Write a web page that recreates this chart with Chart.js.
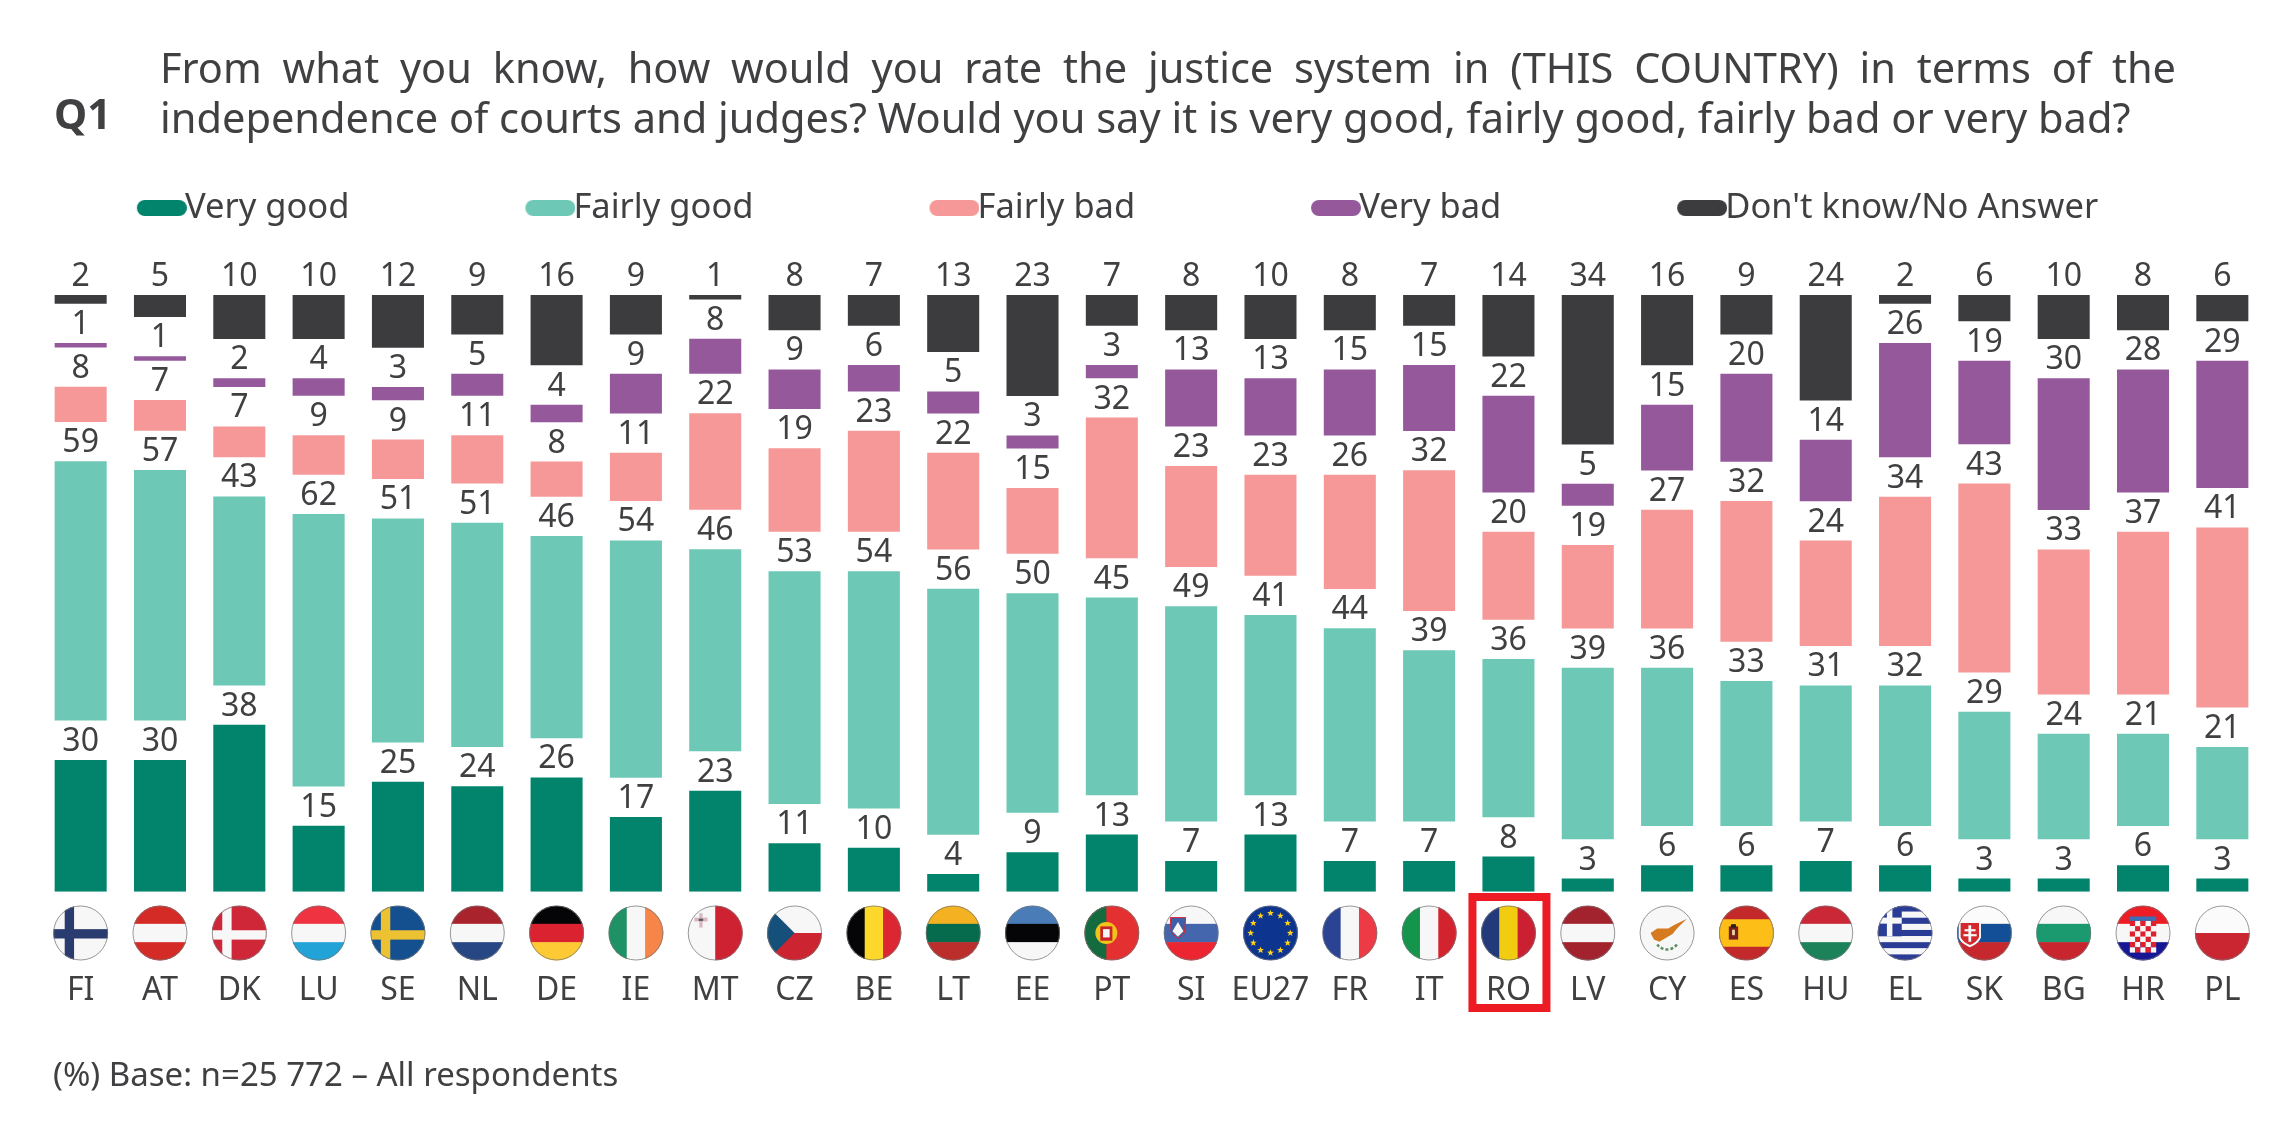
<!DOCTYPE html>
<html><head><meta charset="utf-8">
<script src="https://cdn.jsdelivr.net/npm/chart.js@4/dist/chart.umd.min.js"></script>
<style>
html,body{margin:0;padding:0;background:#fff;width:2294px;height:1133px;overflow:hidden}
#wrap{position:relative;width:2294px;height:1133px}
canvas{position:absolute;left:0;top:0}
.t{position:absolute;color:#404043;font-family:"Noto Sans";white-space:nowrap}
</style></head><body>
<div id="wrap">
<canvas id="c" width="2294" height="1133"></canvas>
<div class="t" id="q" style="left:54px;top:87px;font-size:42px;font-weight:700;line-height:52px">Q1</div>
<div class="t" id="l1" style="left:160px;top:41px;width:2016px;font-size:41.5px;line-height:52px;white-space:normal;text-align:justify;text-align-last:justify">From what you know, how would you rate the justice system in (THIS COUNTRY) in terms of the</div>
<div class="t" id="l2" style="left:160px;top:91px;font-size:41.55px;line-height:52px">independence of courts and judges? Would you say it is very good, fairly good, fairly bad or very bad?</div>
<div class="t" id="f" style="left:53px;top:1052px;font-size:33px;line-height:44px">(%) Base: n=25 772 – All respondents</div>
</div>
<script>
const FONT='"Noto Sans"';
const TEXT='#404043';
const categories=['FI','AT','DK','LU','SE','NL','DE','IE','MT','CZ','BE','LT','EE','PT','SI','EU27','FR','IT','RO','LV','CY','ES','HU','EL','SK','BG','HR','PL'];
const veryGood=[30,30,38,15,25,24,26,17,23,11,10,4,9,13,7,13,7,7,8,3,6,6,7,6,3,3,6,3];
const fairlyGood=[59,57,43,62,51,51,46,54,46,53,54,56,50,45,49,41,44,39,36,39,36,33,31,32,29,24,21,21];
const fairlyBad=[8,7,7,9,9,11,8,11,22,19,23,22,15,32,23,23,26,32,20,19,27,32,24,34,43,33,37,41];
const veryBad=[1,1,2,4,3,5,4,9,8,9,6,5,3,3,13,13,15,15,22,5,15,20,14,26,19,30,28,29];
const dontKnow=[2,5,10,10,12,9,16,9,1,8,7,13,23,7,8,10,8,7,14,34,16,9,24,2,6,10,8,6];
const seriesLabels=['Very good','Fairly good','Fairly bad','Very bad',"Don't know/No Answer"];
const seriesValues=[veryGood,fairlyGood,fairlyBad,veryBad,dontKnow];
const seriesColors=['#02846C','#6DC8B6','#F59897','#94589B','#3C3C3F'];
const highlighted='RO';
const gapUnits=8.95;

// each segment floats above the previous one with a constant label gap
const running=categories.map(()=>0);
const datasets=seriesValues.map((vals,s)=>{
  const data=vals.map((v,i)=>{const a=running[i];running[i]=a+v+gapUnits;return [a,a+v];});
  return {label:seriesLabels[s],data,backgroundColor:seriesColors[s],barPercentage:0.656,categoryPercentage:1};
});

const LEG_F=34.5,LEG_P=25,LEG_LEAD=151,LEG_W=LEG_LEAD+48-LEG_F/2;
function pill(color){
  const c=document.createElement('canvas');c.width=LEG_W+LEG_F+4;c.height=16;
  const x=c.getContext('2d');x.fillStyle=color;x.beginPath();
  x.roundRect(c.width-50,0,50,16,8);x.fill();return c;
}

const stripes={
 AT:['#D42B27','#F7F7F7','#D42B27'],LU:['#EF3340','#F7F7F7','#22A3D8'],NL:['#A8232B','#F7F7F7','#264784'],
 DE:['#050507','#DA2230','#FDC935'],LT:['#F4B223','#066A4C','#BB2E2B'],EE:['#4A7DB8','#050507','#F7F7F7'],
 SI:['#F7F7F7','#4466AC','#EC2530'],LV:['#A2232E','#F7F7F7','#A2232E'],HU:['#CA2737','#F7F7F7','#1B8259'],
 SK:['#FBFBFB','#134F97','#C7282E'],BG:['#F7F7F7','#1B9A70','#C9252F'],HR:['#EE1C25','#F7F7F7','#171796'],
 PL:['#FBFBFB','#C92632']
};
const bars={
 IE:['#1E9264','#F7F7F7','#F58548'],BE:['#050507','#FDD82A','#DC2732'],FR:['#2A4392','#F7F7F7','#EE3A45'],
 IT:['#14954B','#F7F7F7','#D2232F'],RO:['#22397A','#F2CC11','#CB2032'],MT:['#F7F7F7','#CE2232']
};
const crosses={FI:['#F7F7F7','#2A3B6F',.21,.43],DK:['#CF2738','#F7F7F7',.19,.45],SE:['#14508F','#ECC233',.19,.45]};

function star(x,cx,cy,r,fill){
  x.fillStyle=fill;x.beginPath();
  for(let i=0;i<10;i++){const a=-Math.PI/2+i*Math.PI/5,q=i%2?r*.42:r;x.lineTo(cx+q*Math.cos(a),cy+q*Math.sin(a));}
  x.closePath();x.fill();
}
function drawFlag(x,code,cx,cy,r){
  const L=cx-r,T=cy-r,D=2*r;
  x.save();x.beginPath();x.arc(cx,cy,r,0,Math.PI*2);x.clip();
  x.fillStyle='#F7F7F7';x.fillRect(L,T,D,D);
  const rect=(c,a,b,w,h)=>{x.fillStyle=c;x.fillRect(L+a*D,T+b*D,w*D,h*D);};
  if(stripes[code]){const s=stripes[code];s.forEach((c,i)=>rect(c,0,i/s.length,1,1/s.length+.01));}
  if(bars[code]){const s=bars[code];s.forEach((c,i)=>rect(c,i/s.length,0,1/s.length+.01,1));}
  if(crosses[code]){const [b,f,vx,hy]=crosses[code];rect(b,0,0,1,1);rect(f,vx,0,.17,1);rect(f,0,hy,1,.17);}
  if(code==='MT'){rect('#D9B7C0',.21,.14,.06,.26);rect('#D9B7C0',.12,.22,.24,.07);rect('#555',.2,.24,.08,.04);}
  if(code==='CZ'){rect('#F7F7F7',0,0,1,.5);rect('#CC2431',0,.5,1,.5);
    x.fillStyle='#14507A';x.beginPath();x.moveTo(L,T);x.lineTo(L+.5*D,T+.5*D);x.lineTo(L,T+D);x.closePath();x.fill();}
  if(code==='PT'){rect('#E53031',0,0,1,1);rect('#136B3F',0,0,.4,1);
    x.fillStyle='#F0C419';x.beginPath();x.arc(L+.4*D,T+.5*D,.2*D,0,7);x.fill();
    x.fillStyle='#C8242C';x.fillRect(L+.29*D,T+.38*D,.22*D,.26*D);
    x.fillStyle='#F7F7F7';x.fillRect(L+.34*D,T+.43*D,.12*D,.15*D);}
  if(code==='SI'){x.fillStyle='#3D5FA8';x.strokeStyle='#D23';x.lineWidth=1;x.beginPath();
    x.moveTo(L+.12*D,T+.22*D);x.lineTo(L+.4*D,T+.22*D);x.lineTo(L+.38*D,T+.5*D);x.lineTo(L+.26*D,T+.6*D);x.lineTo(L+.14*D,T+.5*D);x.closePath();x.fill();x.stroke();
    x.fillStyle='#F7F7F7';x.beginPath();x.moveTo(L+.16*D,T+.47*D);x.lineTo(L+.26*D,T+.3*D);x.lineTo(L+.36*D,T+.47*D);x.lineTo(L+.26*D,T+.57*D);x.closePath();x.fill();}
  if(code==='EU27'){rect('#0D3590',0,0,1,1);
    for(let i=0;i<12;i++){const a=i*Math.PI/6;star(x,cx+.72*r*Math.cos(a),cy+.72*r*Math.sin(a),.13*r,'#FCD116');}}
  if(code==='CY'){x.fillStyle='#D57A1E';x.beginPath();
    const p=[[.2,.5],[.32,.42],[.52,.42],[.62,.36],[.86,.24],[.68,.42],[.6,.52],[.46,.6],[.36,.66],[.26,.62]];
    p.forEach(q=>x.lineTo(L+q[0]*D,T+q[1]*D));x.closePath();x.fill();
    x.strokeStyle='#5E8C62';x.lineWidth=2.5;x.setLineDash([3,2]);x.beginPath();x.arc(cx,T+.58*D,.22*D,.2*Math.PI,.8*Math.PI);x.stroke();x.setLineDash([]);}
  if(code==='ES'){rect('#C3282A',0,0,1,1);rect('#FDBF17',0,.25,1,.5);
    rect('#7A1F1F',.18,.38,.17,.24);rect('#222',.22,.34,.09,.06);rect('#E9D9A0',.24,.44,.05,.1);}
  if(code==='EL'){for(let i=0;i<9;i++)rect(i%2?'#F7F7F7':'#2B3C96',0,i/9,1,1/9+.005);
    rect('#2B3C96',0,0,.44,.56);rect('#F7F7F7',.17,0,.1,.56);rect('#F7F7F7',0,.22,.44,.11);}
  if(code==='SK'){x.fillStyle='#D3282E';x.strokeStyle='#F7F7F7';x.lineWidth=2;x.beginPath();
    x.moveTo(L+.05*D,T+.3*D);x.lineTo(L+.42*D,T+.3*D);x.lineTo(L+.42*D,T+.58*D);x.quadraticCurveTo(L+.38*D,T+.68*D,L+.24*D,T+.74*D);x.quadraticCurveTo(L+.09*D,T+.68*D,L+.05*D,T+.58*D);x.closePath();x.fill();x.stroke();
    rect('#F7F7F7',.21,.36,.05,.3);rect('#F7F7F7',.14,.43,.2,.04);rect('#F7F7F7',.12,.52,.24,.04);}
  if(code==='HR'){const n=5,w=.48/n;for(let i=0;i<n;i++)for(let j=0;j<n+1;j++)rect((i+j)%2?'#F7F7F7':'#E0202C',.26+i*w,.28+j*w,w,w);
    rect('#3A6FB5',.26,.2,.48,.08);}
  x.restore();
  x.strokeStyle='rgba(120,120,120,.75)';x.lineWidth=1;x.beginPath();x.arc(cx,cy,r-.5,0,Math.PI*2);x.stroke();
}

const valueLabels={id:'valueLabels',afterDatasetsDraw(chart){
  const x=chart.ctx;x.save();x.font='32px '+FONT;x.fillStyle=TEXT;x.textAlign='center';x.textBaseline='alphabetic';
  seriesValues.forEach((vals,s)=>{const m=chart.getDatasetMeta(s);
    vals.forEach((v,i)=>{const el=m.data[i];x.fillText(String(v),el.x,el.y-9);});});
  x.restore();
}};
const flags={id:'flags',afterDraw(chart){
  const x=chart.ctx,sc=chart.scales.x;
  categories.forEach((c,i)=>drawFlag(x,c,sc.getPixelForValue(i),933,27.5));
  const px=sc.getPixelForValue(categories.indexOf(highlighted));
  x.save();x.strokeStyle='#ED1C24';x.lineWidth=8;x.strokeRect(px-36,897,74,111);x.restore();
}};
const legendPlacer={id:'legendPlacer',afterLayout(chart){chart.legend.left=137-LEG_P-LEG_LEAD;chart.legend.top=208-LEG_P-LEG_F/2;}};

new Chart(document.getElementById('c'),{
  type:'bar',
  data:{labels:categories,datasets},
  plugins:[valueLabels,flags,legendPlacer],
  options:{
    responsive:false,animation:false,devicePixelRatio:1,
    layout:{padding:{left:41,right:32,top:294-(LEG_F+2*LEG_P)+16,bottom:1133-891.7-120}},
    scales:{
      x:{stacked:true,grid:{display:false},border:{display:false},
         afterFit(s){s.height=120;s.paddingLeft=0;s.paddingRight=0;},
         ticks:{padding:72,font:{family:FONT,size:32},color:TEXT,autoSkip:false,maxRotation:0}},
      y:{display:false,min:0,max:100+4*gapUnits}
    },
    plugins:{
      tooltip:{enabled:false},
      legend:{position:'top',align:'start',labels:{
        usePointStyle:true,pointStyleWidth:LEG_W,padding:LEG_P,color:TEXT,font:{family:FONT,size:LEG_F},
        generateLabels(chart){return chart.data.datasets.map((d,i)=>({text:d.label,fillStyle:d.backgroundColor,strokeStyle:d.backgroundColor,lineWidth:0,pointStyle:pill(d.backgroundColor),datasetIndex:i,fontColor:TEXT}));}
      }}
    }
  }
});
</script>
</body></html>
